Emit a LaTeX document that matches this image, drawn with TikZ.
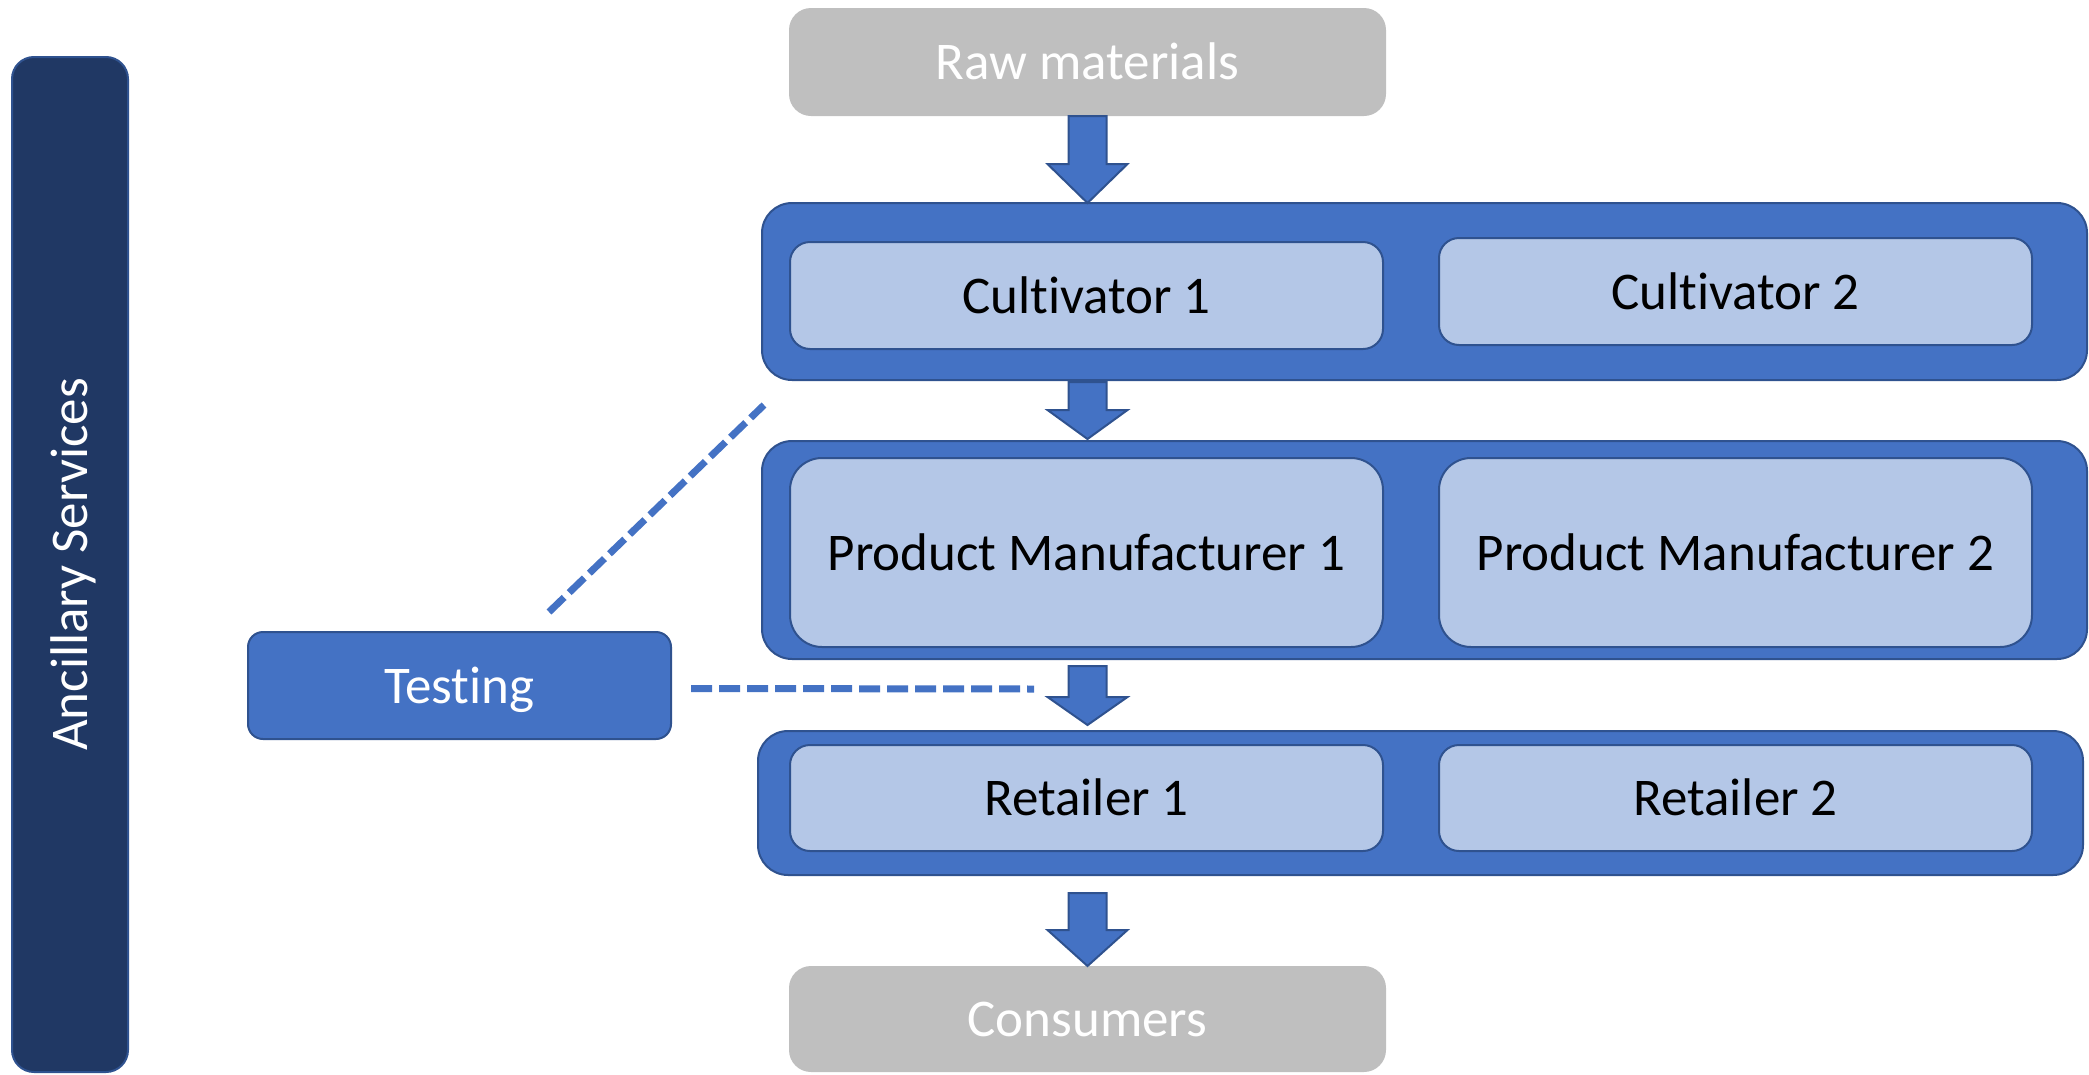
\documentclass[tikz,border=0pt]{standalone}
\usepackage{fontspec}
\setmainfont[Ligatures=NoCommon]{Carlito}
\usetikzlibrary{calc}

\definecolor{officeblue}{HTML}{4472C4}
\definecolor{edgeblue}{HTML}{2F528F}
\definecolor{paleblue}{HTML}{B4C7E7}
\definecolor{navyblue}{HTML}{203864}
\definecolor{stonegray}{HTML}{BFBFBF}

\tikzset{
  base/.style={inner sep=0pt, outer sep=0pt, anchor=north west,
    font=\fontsize{53}{63}\selectfont, text height=35pt, text depth=0pt},
  stage/.style={base, fill=officeblue, draw=edgeblue, line width=2pt, rounded corners=30pt},
  member/.style={base, fill=paleblue, draw=edgeblue, line width=2pt, rounded corners=20pt, text=black},
  endpoint/.style={base, fill=stonegray, rounded corners=22pt, text=white},
  sidebar/.style={base, anchor=center, fill=navyblue, draw=edgeblue, line width=2pt,
    rounded corners=22pt, text=white},
  service/.style={base, fill=officeblue, draw=edgeblue, line width=2pt, rounded corners=15pt, text=white},
  blockarrow/.style={fill=officeblue, draw=edgeblue, line width=2pt, line join=miter},
  link/.style={draw=officeblue, line width=7pt, dash pattern=on 21pt off 7pt}
}

% block arrow: #1 = start of shaft, #2 = tip, #3 = head length
\newcommand{\flowarrow}[3]{%
  \draw[blockarrow] let \p1=(#1), \p2=(#2) in
    (\x2-19pt,\y1) -- (\x2+19pt,\y1) -- (\x2+19pt,\y2+#3) -- (\x2+40pt,\y2+#3)
    -- (\x2,\y2) -- (\x2-40pt,\y2+#3) -- (\x2-19pt,\y2+#3) -- cycle;}

\begin{document}
\begin{tikzpicture}[x=1pt, y=-1pt]
  \useasboundingbox (0,0) rectangle (2089,1074);

  % side bar
  \node[sidebar, rotate=90, minimum width=1015pt, minimum height=116pt] (anc) at (70,564.5)
    {Ancillary Services};

  % sources and sinks
  \node[endpoint, minimum width=597pt, minimum height=108pt] (raw) at (789,8) {Raw materials};
  \node[endpoint, minimum width=597pt, minimum height=106pt] (cons) at (789,966) {Consumers};

  % stage containers
  \node[stage, minimum width=1325pt, minimum height=177pt] (cult) at (762,203) {};
  \node[stage, minimum width=1325pt, minimum height=218pt] (mfg) at (762,441) {};
  \node[stage, minimum width=1325pt, minimum height=144pt] (retail) at (758,731) {};

  % members of each stage
  \node[member, minimum width=593pt, minimum height=107pt] (c1) at (790,242) {Cultivator 1};
  \node[member, minimum width=593pt, minimum height=107pt] (c2) at (1439,238) {Cultivator 2};
  \node[member, rounded corners=32pt, minimum width=593pt, minimum height=189pt] (p1) at (790,458)
    {Product Manufacturer 1};
  \node[member, rounded corners=32pt, minimum width=593pt, minimum height=189pt] (p2) at (1439,458)
    {Product Manufacturer 2};
  \node[member, minimum width=593pt, minimum height=106pt] (r1) at (790,745) {Retailer 1};
  \node[member, minimum width=593pt, minimum height=106pt] (r2) at (1439,745) {Retailer 2};

  % testing service
  \node[service, minimum width=423pt, minimum height=107pt] (test) at (248,632) {Testing};

  % flow arrows
  \coordinate (a1s) at ($(raw.south)$);
  \coordinate (a1t) at (cult.north -| raw.south);
  \coordinate (a2s) at ($(cult.south -| raw.south)+(0,2)$);
  \coordinate (a2t) at ($(mfg.north -| raw.south)+(0,-2)$);
  \coordinate (a3s) at ($(mfg.south -| raw.south)+(0,7)$);
  \coordinate (a3t) at ($(retail.north -| raw.south)+(0,-6)$);
  \coordinate (a4s) at ($(retail.south -| raw.south)+(0,18)$);
  \coordinate (a4t) at (cons.north);
  \flowarrow{a1s}{a1t}{39pt}
  \flowarrow{a2s}{a2t}{29pt}
  \flowarrow{a3s}{a3t}{28pt}
  \flowarrow{a4s}{a4t}{36pt}

  % testing links
  \coordinate (d1a) at (549,612);
  \coordinate (d1b) at (764,405);
  \coordinate (d2a) at ($(test.east)+(20,3)$);
  \coordinate (d2b) at (1034,689);
  \draw[link] (d1a) -- (d1b);
  \draw[link] (d2a) -- (d2b);
\end{tikzpicture}
\end{document}
